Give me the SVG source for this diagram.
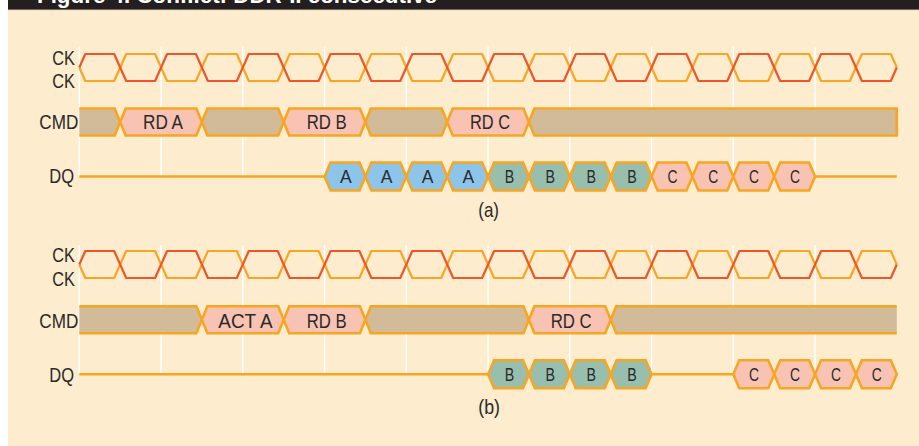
<svg xmlns="http://www.w3.org/2000/svg" xmlns:xlink="http://www.w3.org/1999/xlink" width="919" height="446" viewBox="0 0 919 446">
<style>
.lbl{font-family:"Liberation Sans",Arial,sans-serif;font-size:21px;fill:#2a2a2a}
.sm{font-family:"Liberation Sans",Arial,sans-serif;font-size:19px;fill:#2a2a2a;text-anchor:middle}
.grid{stroke:#ffffff;stroke-width:1.5}
.red{fill:none;stroke:#ee5528;stroke-width:2.2;stroke-linejoin:round}
.org{fill:none;stroke:#f6a623;stroke-width:2.2;stroke-linejoin:round}
.gray{fill:#d2bb99;stroke:#f6a623;stroke-width:2.6;stroke-linejoin:miter}
.pink{fill:#f9c3b3;stroke:#f6a623;stroke-width:2.6}
.blue{fill:#8dc5ea;stroke:#f6a623;stroke-width:2.6}
.green{fill:#98bfae;stroke:#f6a623;stroke-width:2.6}
.line{stroke:#f6a623;stroke-width:2.4;fill:none}
</style>
<defs>
<path id="ckR" d="M79.3,67.5 L85.3,54 L114.2,54 L126.2,81 L155.1,81 L167.1,54 L195.9,54 L207.9,81 L236.8,81 L248.8,54 L277.7,54 L289.7,81 L318.6,81 L330.6,54 L359.4,54 L371.4,81 L400.3,81 L412.3,54 L441.2,54 L453.2,81 L482.1,81 L494.1,54 L522.9,54 L534.9,81 L563.8,81 L575.8,54 L604.7,54 L616.7,81 L645.6,81 L657.6,54 L686.4,54 L698.4,81 L727.3,81 L739.3,54 L768.2,54 L780.2,81 L809.1,81 L821.1,54 L849.9,54 L861.9,81 L890.8,81 L896.8,67.5"/>
<path id="ckO" d="M79.3,67.5 L85.3,81 L114.2,81 L126.2,54 L155.1,54 L167.1,81 L195.9,81 L207.9,54 L236.8,54 L248.8,81 L277.7,81 L289.7,54 L318.6,54 L330.6,81 L359.4,81 L371.4,54 L400.3,54 L412.3,81 L441.2,81 L453.2,54 L482.1,54 L494.1,81 L522.9,81 L534.9,54 L563.8,54 L575.8,81 L604.7,81 L616.7,54 L645.6,54 L657.6,81 L686.4,81 L698.4,54 L727.3,54 L739.3,81 L768.2,81 L780.2,54 L809.1,54 L821.1,81 L849.9,81 L861.9,54 L890.8,54 L896.8,67.5"/>
<path id="hex" d="M0,0 L6,-14 L34.9,-14 L40.9,0 L34.9,14 L6,14 Z"/>
</defs>

<rect x="0" y="0" width="919" height="446" fill="#ffffff"/>
<rect x="8" y="0" width="911" height="10" fill="#231f20"/>
<text x="37" y="2.8" font-family="Liberation Sans,Arial,sans-serif" font-weight="bold" font-size="22" fill="#ffffff" textLength="400" lengthAdjust="spacingAndGlyphs">Figure 4. Conflict: DDR-II consecutive</text>
<rect x="8" y="9.5" width="911" height="1" fill="#c9b28c"/>
<rect x="8" y="10.5" width="911" height="435.5" fill="#fdecce"/>

<g id="grid-a">
<line class="grid" x1="79.3" y1="46.5" x2="79.3" y2="176.5"/>
<line class="grid" x1="161.1" y1="46.5" x2="161.1" y2="176.5"/>
<line class="grid" x1="242.8" y1="46.5" x2="242.8" y2="176.5"/>
<line class="grid" x1="324.6" y1="46.5" x2="324.6" y2="176.5"/>
<line class="grid" x1="406.3" y1="46.5" x2="406.3" y2="176.5"/>
<line class="grid" x1="488.1" y1="46.5" x2="488.1" y2="176.5"/>
<line class="grid" x1="569.8" y1="46.5" x2="569.8" y2="176.5"/>
<line class="grid" x1="651.6" y1="46.5" x2="651.6" y2="176.5"/>
<line class="grid" x1="733.3" y1="46.5" x2="733.3" y2="176.5"/>
<line class="grid" x1="815.1" y1="46.5" x2="815.1" y2="176.5"/>
</g>
<g id="grid-b">
<line class="grid" x1="79.3" y1="245" x2="79.3" y2="374"/>
<line class="grid" x1="161.1" y1="245" x2="161.1" y2="374"/>
<line class="grid" x1="242.8" y1="245" x2="242.8" y2="374"/>
<line class="grid" x1="324.6" y1="245" x2="324.6" y2="374"/>
<line class="grid" x1="406.3" y1="245" x2="406.3" y2="374"/>
<line class="grid" x1="488.1" y1="245" x2="488.1" y2="374"/>
<line class="grid" x1="569.8" y1="245" x2="569.8" y2="374"/>
<line class="grid" x1="651.6" y1="245" x2="651.6" y2="374"/>
<line class="grid" x1="733.3" y1="245" x2="733.3" y2="374"/>
<line class="grid" x1="815.1" y1="245" x2="815.1" y2="374"/>
</g>

<g id="labels">
<text class="lbl" x="52.3" y="65" textLength="22.7" lengthAdjust="spacingAndGlyphs">CK</text>
<text class="lbl" x="52.3" y="88.3" textLength="22.7" lengthAdjust="spacingAndGlyphs">CK</text>
<text class="lbl" x="39.3" y="129.3" textLength="39" lengthAdjust="spacingAndGlyphs">CMD</text>
<text class="lbl" x="49.3" y="182.8" textLength="24.7" lengthAdjust="spacingAndGlyphs">DQ</text>
<text class="lbl" x="478.3" y="216.5" font-size="19" textLength="20.7" lengthAdjust="spacingAndGlyphs">(a)</text>
<text class="lbl" x="52.3" y="262.3" textLength="22.7" lengthAdjust="spacingAndGlyphs">CK</text>
<text class="lbl" x="52.3" y="285.7" textLength="22.7" lengthAdjust="spacingAndGlyphs">CK</text>
<text class="lbl" x="39.3" y="327.7" textLength="39" lengthAdjust="spacingAndGlyphs">CMD</text>
<text class="lbl" x="49.3" y="381.5" textLength="24.7" lengthAdjust="spacingAndGlyphs">DQ</text>
<text class="lbl" x="478.3" y="414" font-size="19" textLength="21.7" lengthAdjust="spacingAndGlyphs">(b)</text>
</g>

<g id="ck-a">
<use xlink:href="#ckO" href="#ckO" class="org"/>
<use xlink:href="#ckR" href="#ckR" class="red"/>
</g>
<g id="ck-b" transform="translate(0,197)">
<use xlink:href="#ckO" href="#ckO" class="org"/>
<use xlink:href="#ckR" href="#ckR" class="red"/>
</g>

<g id="connectors">
<line class="line" x1="79.3" y1="176.5" x2="896.8" y2="176.5"/>
<line class="line" x1="79.3" y1="374.2" x2="896.8" y2="374.2"/>
</g>

<g id="cmd-a">
<g id="cmd-a-nop1"><path class="gray" d="M79.3,108.5 L114.7,108.5 L120.2,122 L114.7,135.5 L79.3,135.5"/></g>
<g id="cmd-a-rda"><polygon class="pink" points="120.2,122 125.7,108.5 196.4,108.5 201.9,122 196.4,135.5 125.7,135.5"/>
<text class="lbl" x="143" y="129.3" textLength="40" lengthAdjust="spacingAndGlyphs">RD A</text></g>
<g id="cmd-a-nop2"><polygon class="gray" points="201.9,122 207.4,108.5 278.2,108.5 283.7,122 278.2,135.5 207.4,135.5"/></g>
<g id="cmd-a-rdb"><polygon class="pink" points="283.7,122 289.2,108.5 359.9,108.5 365.4,122 359.9,135.5 289.2,135.5"/>
<text class="lbl" x="306.7" y="129.3" textLength="40" lengthAdjust="spacingAndGlyphs">RD B</text></g>
<g id="cmd-a-nop3"><polygon class="gray" points="365.4,122 370.9,108.5 441.7,108.5 447.2,122 441.7,135.5 370.9,135.5"/></g>
<g id="cmd-a-rdc"><polygon class="pink" points="447.2,122 452.7,108.5 523.4,108.5 528.9,122 523.4,135.5 452.7,135.5"/>
<text class="lbl" x="470" y="129.3" textLength="40" lengthAdjust="spacingAndGlyphs">RD C</text></g>
<g id="cmd-a-nop4"><polygon class="gray" stroke-width="3.2" points="528.9,122 534.4,108.5 896.8,108.5 896.8,135.5 534.4,135.5"/></g>
</g>

<g id="cmd-b">
<g id="cmd-b-nop1"><path class="gray" d="M79.3,306.2 L196.4,306.2 L201.9,319.7 L196.4,333.2 L79.3,333.2"/></g>
<g id="cmd-b-acta"><polygon class="pink" points="201.9,319.7 207.4,306.2 278.2,306.2 283.7,319.7 278.2,333.2 207.4,333.2"/>
<text class="lbl" x="218.3" y="327.7" textLength="54.3" lengthAdjust="spacingAndGlyphs">ACT A</text></g>
<g id="cmd-b-rdb"><polygon class="pink" points="283.7,319.7 289.2,306.2 359.9,306.2 365.4,319.7 359.9,333.2 289.2,333.2"/>
<text class="lbl" x="306.7" y="327.7" textLength="40" lengthAdjust="spacingAndGlyphs">RD B</text></g>
<g id="cmd-b-nop2"><polygon class="gray" points="365.4,319.7 370.9,306.2 523.4,306.2 528.9,319.7 523.4,333.2 370.9,333.2"/></g>
<g id="cmd-b-rdc"><polygon class="pink" points="528.9,319.7 534.4,306.2 605.2,306.2 610.7,319.7 605.2,333.2 534.4,333.2"/>
<text class="lbl" x="550.7" y="327.7" textLength="41" lengthAdjust="spacingAndGlyphs">RD C</text></g>
<g id="cmd-b-nop3"><path class="gray" d="M896.8,306.2 L616.2,306.2 L610.7,319.7 L616.2,333.2 L896.8,333.2"/></g>
</g>

<g id="dq-a">
<g id="dq-a-1"><use href="#hex" xlink:href="#hex" class="blue" x="324.6" y="176.5"/><text class="sm" x="345.8" y="183.3" textLength="11.7" lengthAdjust="spacingAndGlyphs">A</text></g>
<g id="dq-a-2"><use href="#hex" xlink:href="#hex" class="blue" x="365.4" y="176.5"/><text class="sm" x="386.6" y="183.3" textLength="11.7" lengthAdjust="spacingAndGlyphs">A</text></g>
<g id="dq-a-3"><use href="#hex" xlink:href="#hex" class="blue" x="406.3" y="176.5"/><text class="sm" x="427.5" y="183.3" textLength="11.7" lengthAdjust="spacingAndGlyphs">A</text></g>
<g id="dq-a-4"><use href="#hex" xlink:href="#hex" class="blue" x="447.2" y="176.5"/><text class="sm" x="468.4" y="183.3" textLength="11.7" lengthAdjust="spacingAndGlyphs">A</text></g>
<g id="dq-a-5"><use href="#hex" xlink:href="#hex" class="green" x="488.1" y="176.5"/><text class="sm" x="509.5" y="183.3" textLength="9.5" lengthAdjust="spacingAndGlyphs">B</text></g>
<g id="dq-a-6"><use href="#hex" xlink:href="#hex" class="green" x="528.9" y="176.5"/><text class="sm" x="550.3" y="183.3" textLength="9.5" lengthAdjust="spacingAndGlyphs">B</text></g>
<g id="dq-a-7"><use href="#hex" xlink:href="#hex" class="green" x="569.8" y="176.5"/><text class="sm" x="591.2" y="183.3" textLength="9.5" lengthAdjust="spacingAndGlyphs">B</text></g>
<g id="dq-a-8"><use href="#hex" xlink:href="#hex" class="green" x="610.7" y="176.5"/><text class="sm" x="632.1" y="183.3" textLength="9.5" lengthAdjust="spacingAndGlyphs">B</text></g>
<g id="dq-a-9"><use href="#hex" xlink:href="#hex" class="pink" x="651.6" y="176.5"/><text class="sm" x="672.4" y="183.3" textLength="10" lengthAdjust="spacingAndGlyphs">C</text></g>
<g id="dq-a-10"><use href="#hex" xlink:href="#hex" class="pink" x="692.4" y="176.5"/><text class="sm" x="713.2" y="183.3" textLength="10" lengthAdjust="spacingAndGlyphs">C</text></g>
<g id="dq-a-11"><use href="#hex" xlink:href="#hex" class="pink" x="733.3" y="176.5"/><text class="sm" x="754.1" y="183.3" textLength="10" lengthAdjust="spacingAndGlyphs">C</text></g>
<g id="dq-a-12"><use href="#hex" xlink:href="#hex" class="pink" x="774.2" y="176.5"/><text class="sm" x="795" y="183.3" textLength="10" lengthAdjust="spacingAndGlyphs">C</text></g>
</g>

<g id="dq-b">
<g id="dq-b-1"><use href="#hex" xlink:href="#hex" class="green" x="488.1" y="374.2"/><text class="sm" x="509.5" y="381" textLength="9.5" lengthAdjust="spacingAndGlyphs">B</text></g>
<g id="dq-b-2"><use href="#hex" xlink:href="#hex" class="green" x="528.9" y="374.2"/><text class="sm" x="550.3" y="381" textLength="9.5" lengthAdjust="spacingAndGlyphs">B</text></g>
<g id="dq-b-3"><use href="#hex" xlink:href="#hex" class="green" x="569.8" y="374.2"/><text class="sm" x="591.2" y="381" textLength="9.5" lengthAdjust="spacingAndGlyphs">B</text></g>
<g id="dq-b-4"><use href="#hex" xlink:href="#hex" class="green" x="610.7" y="374.2"/><text class="sm" x="632.1" y="381" textLength="9.5" lengthAdjust="spacingAndGlyphs">B</text></g>
<g id="dq-b-5"><use href="#hex" xlink:href="#hex" class="pink" x="733.3" y="374.2"/><text class="sm" x="754.1" y="381" textLength="10" lengthAdjust="spacingAndGlyphs">C</text></g>
<g id="dq-b-6"><use href="#hex" xlink:href="#hex" class="pink" x="774.2" y="374.2"/><text class="sm" x="795" y="381" textLength="10" lengthAdjust="spacingAndGlyphs">C</text></g>
<g id="dq-b-7"><use href="#hex" xlink:href="#hex" class="pink" x="815.1" y="374.2"/><text class="sm" x="835.9" y="381" textLength="10" lengthAdjust="spacingAndGlyphs">C</text></g>
<g id="dq-b-8"><use href="#hex" xlink:href="#hex" class="pink" x="855.9" y="374.2"/><text class="sm" x="876.7" y="381" textLength="10" lengthAdjust="spacingAndGlyphs">C</text></g>
</g>
</svg>
